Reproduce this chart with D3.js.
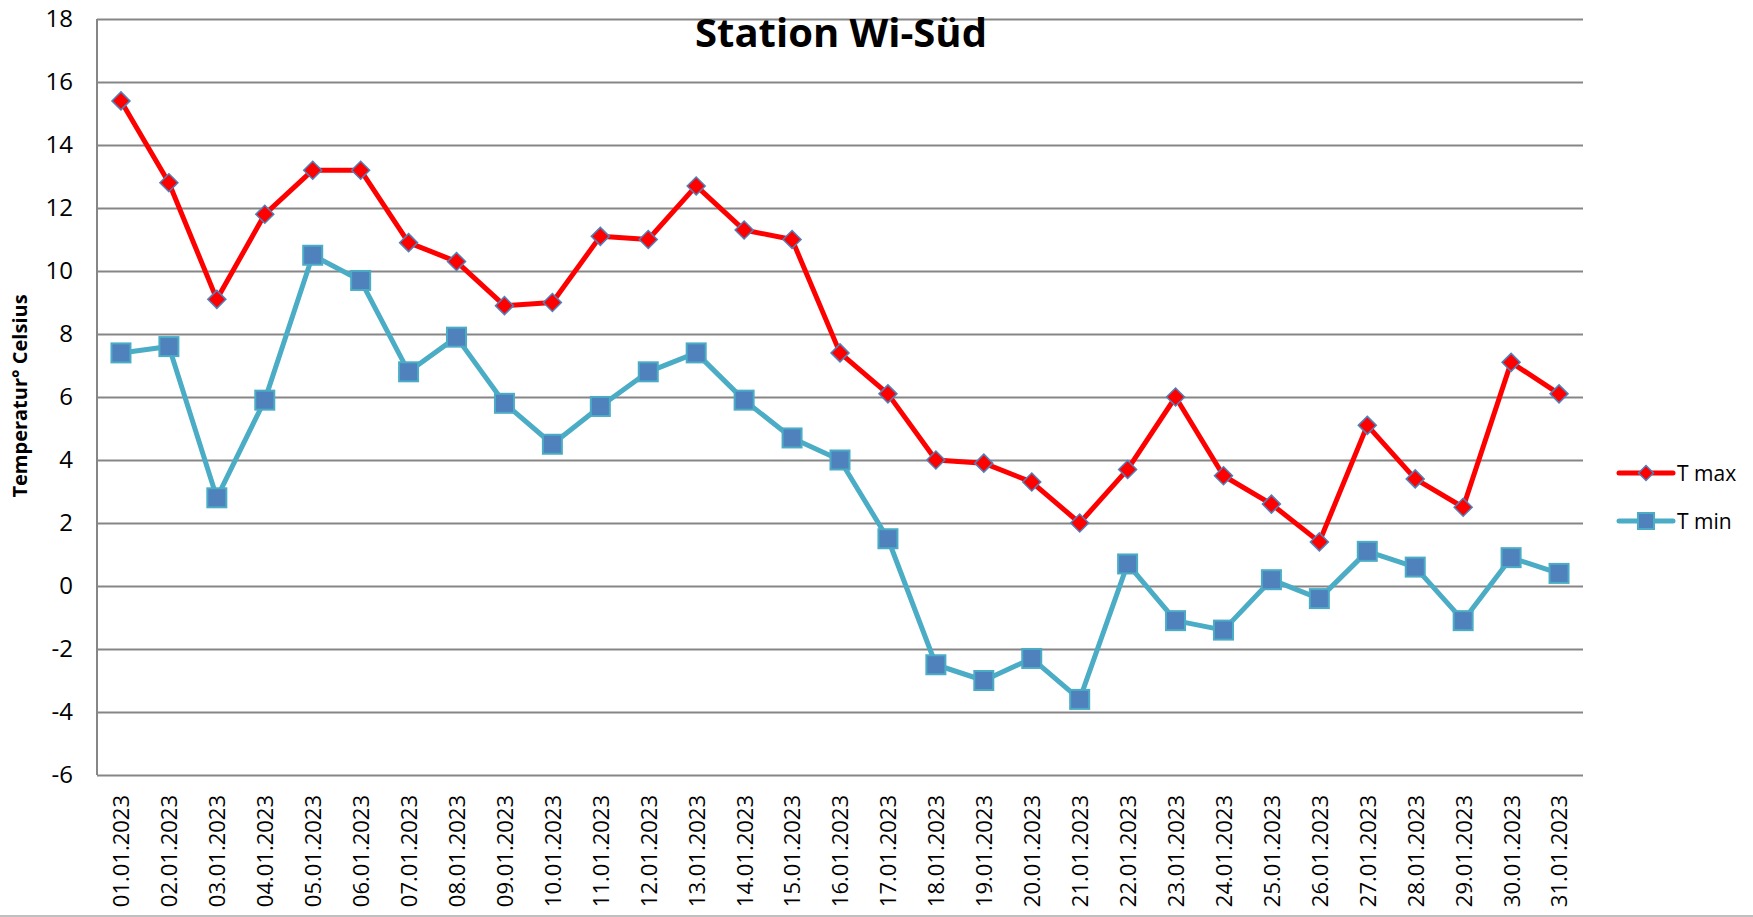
<!doctype html>
<html>
<head>
<meta charset="utf-8">
<style>
    body { margin: 0; background: #fff; font-family: 'Open Sans', sans-serif; }
    svg { display: block; }
    .grid line { stroke: #868686; stroke-width: 2; }
    .grid path { stroke-width: 0; }
    .axis path, .axis line { stroke: none; }
    .axis text { font-size: 22px; fill: #000; font-family: 'Open Sans', sans-serif; }
    .yaxis text { font-size: 24px; }
    text.title { font-size: 40px; font-weight: 700; }
    text.ylabel { font-size: 20px; font-weight: 700; }
    text.legend { font-size: 21px; }
</style>
<script src="https://d3js.org/d3.v7.min.js"></script>
</head>
<body>
<svg width="1753" height="917"></svg>
<script>
    const days = ['01.01.2023','02.01.2023','03.01.2023','04.01.2023','05.01.2023','06.01.2023','07.01.2023','08.01.2023',
        '09.01.2023','10.01.2023','11.01.2023','12.01.2023','13.01.2023','14.01.2023','15.01.2023','16.01.2023',
        '17.01.2023','18.01.2023','19.01.2023','20.01.2023','21.01.2023','22.01.2023','23.01.2023','24.01.2023',
        '25.01.2023','26.01.2023','27.01.2023','28.01.2023','29.01.2023','30.01.2023','31.01.2023']
    const tMax = [15.4, 12.8, 9.1, 11.8, 13.2, 13.2, 10.9, 10.3, 8.9, 9.0, 11.1, 11.0, 12.7, 11.3, 11.0, 7.4,
        6.1, 4.0, 3.9, 3.3, 2.0, 3.7, 6.0, 3.5, 2.6, 1.4, 5.1, 3.4, 2.5, 7.1, 6.1]
    const tMin = [7.4, 7.6, 2.8, 5.9, 10.5, 9.7, 6.8, 7.9, 5.8, 4.5, 5.7, 6.8, 7.4, 5.9, 4.7, 4.0,
        1.5, -2.5, -3.0, -2.3, -3.6, 0.7, -1.1, -1.4, 0.2, -0.4, 1.1, 0.6, -1.1, 0.9, 0.4]
    const yTicks = [-6, -4, -2, 0, 2, 4, 6, 8, 10, 12, 14, 16, 18]

    const svg = d3.select('svg')
    const plotLeft = 97, plotTop = 19, plotRight = 1583, plotBottom = 775

    const x = d3.scalePoint()
        .domain(days)
        .range([plotLeft, plotRight])
        .padding(0.5)

    const y = d3.scaleLinear()
        .domain([-6, 18])
        .range([plotBottom, plotTop])

    // gridlines
    svg.append('g')
        .attr('class', 'grid')
        .attr('transform', `translate(${plotLeft},0)`)
        .call(d3.axisLeft(y).tickValues(yTicks).tickSize(-(plotRight - plotLeft)).tickFormat(''))

    // left axis line
    svg.append('line')
        .attr('x1', plotLeft).attr('x2', plotLeft)
        .attr('y1', plotTop).attr('y2', plotBottom)
        .attr('stroke', '#868686').attr('stroke-width', 2)

    // bottom border of chart area
    svg.append('line')
        .attr('x1', 0).attr('x2', 1753)
        .attr('y1', 916).attr('y2', 916)
        .attr('stroke', '#bfbfbf').attr('stroke-width', 2)

    // y tick labels (plain hyphen minus like the original)
    svg.append('g')
        .attr('class', 'axis yaxis')
        .attr('transform', `translate(${plotLeft},0)`)
        .call(d3.axisLeft(y).tickValues(yTicks).tickSize(0).tickPadding(24).tickFormat(d => String(d)))

    // x tick labels
    const xAxis = svg.append('g')
        .attr('class', 'axis')
        .attr('transform', `translate(0,${plotBottom})`)
        .call(d3.axisBottom(x).tickSize(0))
    xAxis.selectAll('text')
        .attr('transform', 'rotate(-90)')
        .attr('text-anchor', 'end')
        .attr('dy', '0.36em')
        .attr('x', -20)
        .attr('y', 0)

    const line = d3.line()
        .x((d, i) => x(days[i]))
        .y(d => y(d))

    // T min
    svg.append('path')
        .datum(tMin)
        .attr('d', line)
        .attr('fill', 'none')
        .attr('stroke', '#4BACC6')
        .attr('stroke-width', 5)
        .attr('stroke-linejoin', 'round')

    svg.selectAll('rect.tmin')
        .data(tMin)
        .enter()
        .append('rect')
        .attr('class', 'tmin')
        .attr('x', (d, i) => x(days[i]) - 9.5)
        .attr('y', d => y(d) - 9.5)
        .attr('width', 19)
        .attr('height', 19)
        .attr('fill', '#4F81BD')
        .attr('stroke', '#4BACC6')
        .attr('stroke-width', 2)

    // T max
    svg.append('path')
        .datum(tMax)
        .attr('d', line)
        .attr('fill', 'none')
        .attr('stroke', '#FF0000')
        .attr('stroke-width', 5)
        .attr('stroke-linejoin', 'round')

    const diamond = s => `M0,${-s}L${s},0L0,${s}L${-s},0Z`

    svg.selectAll('path.tmax')
        .data(tMax)
        .enter()
        .append('path')
        .attr('class', 'tmax')
        .attr('d', diamond(9))
        .attr('transform', (d, i) => `translate(${x(days[i])},${y(d)})`)
        .attr('fill', '#FF0000')
        .attr('stroke', '#4F81BD')
        .attr('stroke-width', 1.5)

    // title
    svg.append('text')
        .attr('class', 'title')
        .attr('x', 841)
        .attr('y', 47)
        .attr('text-anchor', 'middle')
        .text('Station Wi-Süd')

    // y axis label
    svg.append('text')
        .attr('class', 'ylabel')
        .attr('transform', 'translate(27,396) rotate(-90)')
        .attr('text-anchor', 'middle')
        .text('Temperatur° Celsius')

    // legend
    const legend = svg.append('g')
    legend.append('line')
        .attr('x1', 1619).attr('x2', 1673).attr('y1', 473).attr('y2', 473)
        .attr('stroke', '#FF0000').attr('stroke-width', 5).attr('stroke-linecap', 'round')
    legend.append('path')
        .attr('d', diamond(7.5))
        .attr('transform', 'translate(1646,473)')
        .attr('fill', '#FF0000').attr('stroke', '#4F81BD').attr('stroke-width', 1.5)
    legend.append('text')
        .attr('class', 'legend')
        .attr('x', 1677).attr('y', 473).attr('dy', '0.36em')
        .text('T max')

    legend.append('line')
        .attr('x1', 1619).attr('x2', 1673).attr('y1', 521).attr('y2', 521)
        .attr('stroke', '#4BACC6').attr('stroke-width', 5).attr('stroke-linecap', 'round')
    legend.append('rect')
        .attr('x', 1638).attr('y', 513).attr('width', 16).attr('height', 16)
        .attr('fill', '#4F81BD').attr('stroke', '#4BACC6').attr('stroke-width', 2)
    legend.append('text')
        .attr('class', 'legend')
        .attr('x', 1677).attr('y', 521).attr('dy', '0.36em')
        .text('T min')
</script>
</body>
</html>
